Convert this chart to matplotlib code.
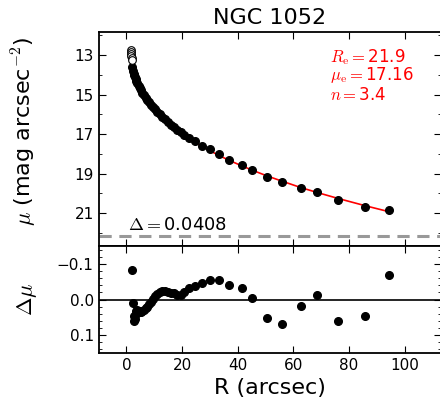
import matplotlib
matplotlib.use("Agg")
import matplotlib.pyplot as plt
import numpy as np
from matplotlib.ticker import MultipleLocator

plt.rcParams['mathtext.fontset'] = 'cm'
plt.rcParams['font.family'] = 'DejaVu Sans'

# inner points left out of the fit (open circles)
r_open = [1.5, 1.6, 1.7, 1.8, 1.9, 2.0]
mu_open = [12.75, 12.85, 12.95, 13.05, 13.15, 13.27]

# fitted points
r_fit = [2.1, 2.4, 2.6, 2.8, 3.0, 3.3, 3.6, 4.0, 4.4, 4.8, 5.3, 5.8, 6.3, 6.9,
         7.5, 8.1, 8.8, 9.5, 10.3, 11.1, 12.0, 12.9, 13.9, 14.9, 16.0, 17.1,
         18.3, 19.5, 20.8, 22.5, 24.6, 27.2, 29.9, 33.3, 36.9, 41.5, 45.3,
         50.5, 55.8, 62.7, 68.6, 76.0, 85.6, 94.2]
mu_fit = [13.58, 13.81, 13.94, 14.03, 14.11, 14.20, 14.30, 14.43, 14.55, 14.67,
          14.79, 14.92, 15.03, 15.17, 15.28, 15.39, 15.52, 15.63, 15.75, 15.87,
          16.00, 16.12, 16.26, 16.39, 16.52, 16.65, 16.79, 16.91, 17.03, 17.19,
          17.37, 17.58, 17.78, 18.03, 18.29, 18.58, 18.83, 19.17, 19.45, 19.73,
          19.95, 20.32, 20.67, 20.86]
# residuals (data - model)
dmu = [-0.082, 0.010, 0.045, 0.060, 0.055, 0.040, 0.032, 0.030, 0.033, 0.035,
       0.034, 0.032, 0.030, 0.025, 0.022, 0.014, 0.006, -0.002, -0.010, -0.016,
       -0.022, -0.025, -0.025, -0.022, -0.019, -0.017, -0.013, -0.012, -0.020,
       -0.031, -0.038, -0.047, -0.055, -0.055, -0.040, -0.031, -0.005, 0.051,
       0.070, 0.018, -0.012, 0.060, 0.047, -0.068]

galaxy = "NGC 1052"
re_val, mue_val, n_val = "21.9", "17.16", "3.4"
delta_val = "0.0408"
delta_level = 22.15

r_fit = np.array(r_fit)
mu_fit = np.array(mu_fit)
dmu = np.array(dmu)
mu_model = mu_fit - dmu

fig = plt.figure(figsize=(4.4, 4.13), dpi=100)
W, H = 440.0, 413.0
x0, x1 = 98.5, 441.0
ax1 = fig.add_axes([x0 / W, 1 - 246 / H, (x1 - x0) / W, (246 - 32) / H])
ax2 = fig.add_axes([x0 / W, 1 - 353 / H, (x1 - x0) / W, (353 - 246) / H], sharex=ax1)

ax1.plot(r_fit, mu_model, color='red', lw=1.2, zorder=2)
ax1.plot(r_fit, mu_fit, 'o', color='black', ms=5.5, zorder=3)
ax1.plot(r_open, mu_open, 'o', mfc='white', mec='black', mew=0.8, ms=5.5, zorder=3)
ax1.axhline(delta_level, color='#999999', ls='--', lw=2.2, dashes=(4, 2.5))

ax1.set_xlim(-10, 113)
ax1.set_ylim(22.67, 11.83)
ax1.yaxis.set_minor_locator(MultipleLocator(1))
ax1.set_yticks([13, 15, 17, 19, 21])
ax1.xaxis.set_major_locator(MultipleLocator(20))
ax1.set_title(galaxy, fontsize=16, pad=6)
ax1.set_ylabel(r'$\mu$ (mag arcsec$^{-2}$)', fontsize=16)
plt.setp(ax1.get_xticklabels(), visible=False)

ax1.text(73, 13.34, r'$R_\mathrm{e}=$' + re_val, color='red', fontsize=12)
ax1.text(73, 14.28, r'$\mu_\mathrm{e}=$' + mue_val, color='red', fontsize=12)
ax1.text(73, 15.28, r'$n=$' + n_val, color='red', fontsize=12)
ax1.text(0.5, 21.86, r'$\Delta=$' + delta_val, color='black', fontsize=13)

ax2.plot(r_fit, dmu, 'o', color='black', ms=5.5)
ax2.axhline(0, color='black', lw=1.2)
ax2.set_ylim(0.15, -0.15)
ax2.set_yticks([-0.1, 0.0, 0.1])
ax2.yaxis.set_minor_locator(MultipleLocator(0.02))
ax2.set_xlabel('R (arcsec)', fontsize=16)
ax2.set_ylabel(r'$\Delta\mu$', fontsize=16)

for ax in (ax1, ax2):
    ax.tick_params(which='both', direction='in', top=True, right=True, labelsize=11)
    ax.tick_params(which='major', length=5, width=0.8)
    ax.tick_params(which='minor', length=2.5, width=0.6)
    for s in ax.spines.values():
        s.set_linewidth(1.3)
ax1.yaxis.set_label_coords(-0.175, 0.535)
ax2.yaxis.set_label_coords(-0.175, 0.5)

fig.savefig('out.png', dpi=100)
